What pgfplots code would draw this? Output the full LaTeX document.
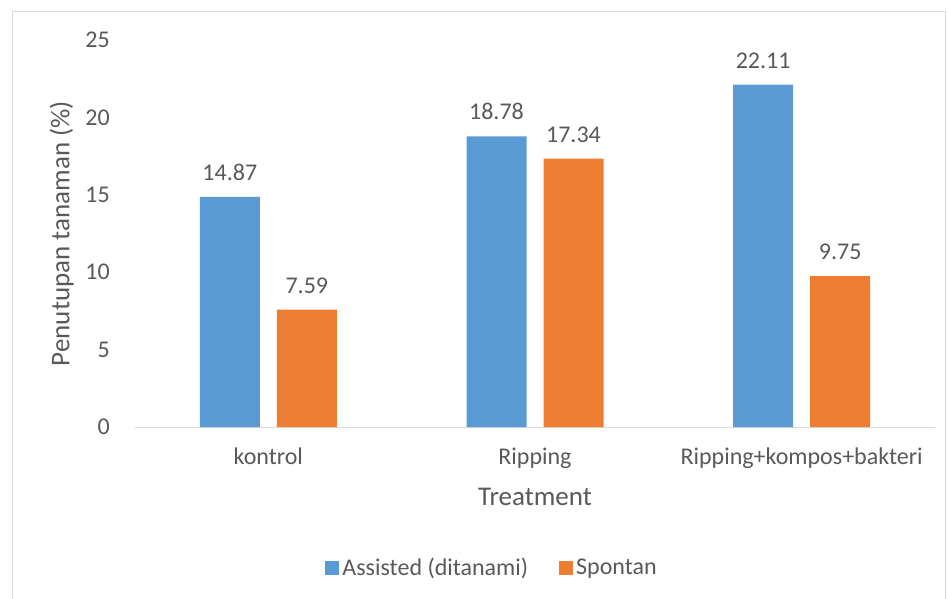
\documentclass[border=0pt]{standalone}
\usepackage{fontspec}
\setmainfont{Carlito}
\usepackage{pgfplots}
\pgfplotsset{compat=1.18}
\definecolor{cblue}{HTML}{5B9BD5}
\definecolor{corange}{HTML}{ED7D31}
\definecolor{ctext}{HTML}{595959}
\definecolor{cline}{HTML}{D9D9D9}
\begin{document}
\begin{tikzpicture}[x=1pt,y=1pt]
\useasboundingbox (0,0) rectangle (948,598);
\draw[cline, line width=1pt] (12,-10) -- (12,586) -- (945,586) -- (945,-10);
\begin{axis}[
  at={(135pt,171pt)}, anchor=south west,
  scale only axis, width=800pt, height=387pt,
  xmin=-0.5, xmax=2.5, ymin=0, ymax=25,
  ybar=17pt, bar width=60pt,
  axis lines*=left,
  x axis line style={cline, line width=1pt},
  y axis line style={draw=none},
  xtick={0,1,2},
  xticklabels={kontrol, Ripping, Ripping+kompos+bakteri},
  ytick={0,5,10,15,20,25},
  major tick length=0pt,
  tick style={draw=none},
  /pgf/number format/assume math mode=true,
  ticklabel style={font=\fontsize{24}{28}\selectfont, color=ctext},
  yticklabel style={anchor=east, inner sep=0pt, xshift=-25pt},
  xticklabel style={anchor=north, inner sep=0pt, yshift=-21pt},
  xlabel={Treatment},
  ylabel={Penutupan tanaman (\%)},
  every axis x label/.style={at={(axis description cs:0.5,0)}, anchor=north, yshift=-61pt, inner sep=0pt, font=\fontsize{27}{31}\selectfont, color=ctext},
  every axis y label/.style={at={(axis description cs:-0.0915,0.5)}, rotate=90, anchor=center, inner sep=0pt, font=\fontsize{27}{31}\selectfont, color=ctext},
  nodes near coords={\pgfmathprintnumber[fixed,fixed zerofill,precision=2,assume math mode=true]{\pgfplotspointmeta}},
  every node near coord/.append style={font=\fontsize{24}{28}\selectfont, color=ctext, inner sep=0pt, anchor=south, yshift=16pt},
  clip=false,
  legend style={at={(axis description cs:0.447,-0.364)}, anchor=center, draw=none, fill=none,
    legend columns=2, font=\fontsize{24}{28}\selectfont, text=ctext,
    /tikz/every even column/.append style={column sep=28pt},
    nodes={inner sep=3pt}},
]
\addplot[fill=cblue, draw=none, legend image code/.code={\fill[cblue] (0pt,-7pt) rectangle (14pt,7pt);}]
  coordinates {(0,14.87) (1,18.78) (2,22.11)};
\addlegendentry{Assisted (ditanami)}
\addplot[fill=corange, draw=none, legend image code/.code={\fill[corange] (0pt,-7pt) rectangle (14pt,7pt);}]
  coordinates {(0,7.59) (1,17.34) (2,9.75)};
\addlegendentry{Spontan}
\end{axis}
\end{tikzpicture}
\end{document}
